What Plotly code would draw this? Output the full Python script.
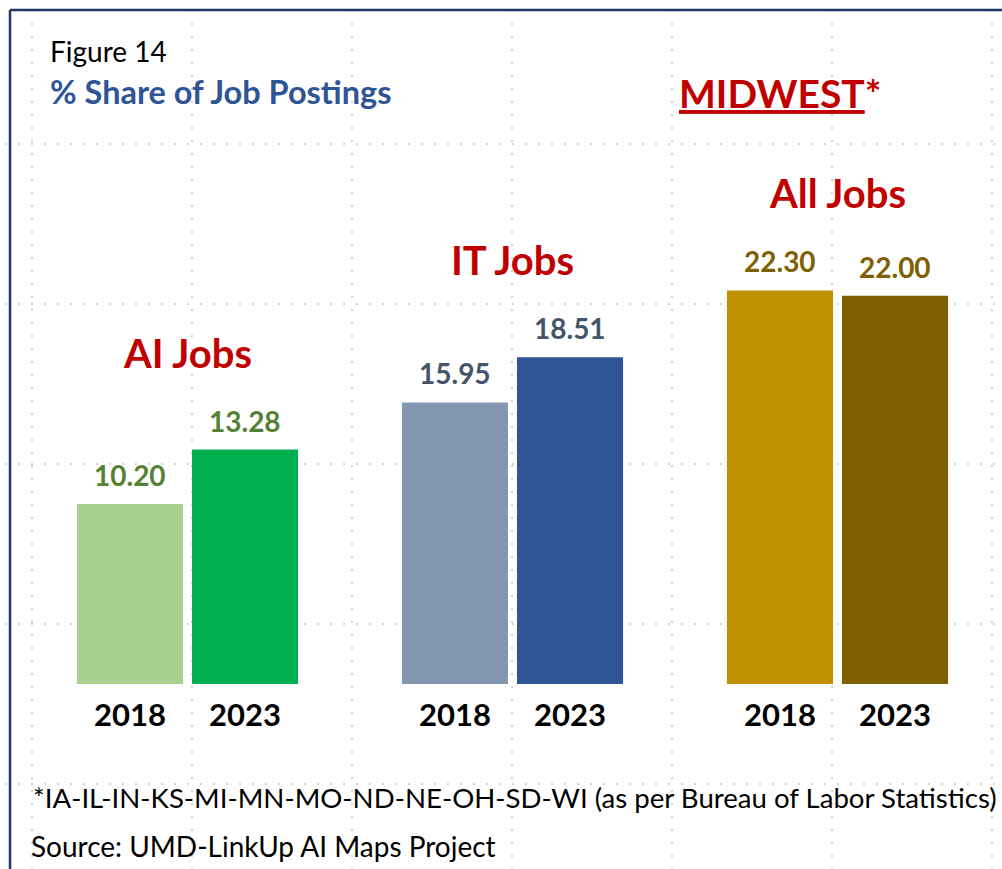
import plotly.graph_objects as go

# data
groups = ["AI Jobs", "IT Jobs", "All Jobs"]
years = ["2018", "2023"]
share_2018 = [10.20, 15.95, 22.30]
share_2023 = [13.28, 18.51, 22.00]

colors_2018 = ["#A9D18E", "#8497B0", "#BF9000"]
colors_2023 = ["#00B050", "#2F5597", "#7F6000"]
label_colors = ["#548235", "#44546A", "#7F6000"]

W, H = 1002, 869
FONT = "Lato"
BARGAP = 0.292

fig = go.Figure()
fig.add_trace(go.Bar(x=groups, y=share_2018, name=years[0],
                     marker=dict(color=colors_2018, line=dict(width=0))))
fig.add_trace(go.Bar(x=groups, y=share_2023, name=years[1],
                     marker=dict(color=colors_2023, line=dict(width=0))))

ann = []
off = (1 - BARGAP) / 4  # offset of each bar centre from the category centre
for i, g in enumerate(groups):
    for j, vals in enumerate([share_2018, share_2023]):
        xpos = i - off if j == 0 else i + off
        # value labels
        ann.append(dict(x=xpos, y=vals[i], xref="x", yref="y", text=f"<b>{vals[i]:.2f}</b>",
                        showarrow=False, yanchor="bottom", yshift=10,
                        font=dict(family=FONT, size=28, color=label_colors[i])))
        # year labels under the bars
        ann.append(dict(x=xpos, y=0, xref="x", yref="y", text=f"<b>{years[j]}</b>",
                        showarrow=False, yanchor="middle", yshift=-30,
                        font=dict(family=FONT, size=31, color="black")))
    # group titles
    ann.append(dict(x=i, y=max(share_2018[i], share_2023[i]), xref="x", yref="y",
                    text=f"<b>{g}</b>", showarrow=False, yanchor="bottom", yshift=71,
                    font=dict(family=FONT, size=40, color="#C00000")))

def px(x, y):
    return x / W, 1 - y / H

for txt, x, y, size, color in [
    ("Figure 14", 48, 51, 28, "black"),
    ("<b>% Share of Job Postings</b>", 48, 92, 32.5, "#2F5597"),
    ("*IA-IL-IN-KS-MI-MN-MO-ND-NE-OH-SD-WI (as per Bureau of Labor Statistics)", 31, 797, 27.6, "black"),
    ("Source: UMD-LinkUp AI Maps Project", 29, 846, 28, "black"),
]:
    ax, ay = px(x, y)
    ann.append(dict(x=ax, y=ay, xref="paper", yref="paper", text=txt, showarrow=False,
                    xanchor="left", yanchor="middle", font=dict(family=FONT, size=size, color=color)))

ax, ay = px(780, 93)
ann.append(dict(x=ax, y=ay, xref="paper", yref="paper", text="<b><u>MIDWEST</u>*</b>",
                showarrow=False, xanchor="center", yanchor="middle",
                font=dict(family=FONT, size=39, color="#C00000")))

# slide grid dots and the frame
shapes = []
for gy in [144, 304, 464, 624, 784]:
    x0, y0 = px(5, gy)
    x1, _ = px(W, gy)
    shapes.append(dict(type="line", xref="paper", yref="paper", x0=x0, x1=x1, y0=y0, y1=y0,
                       line=dict(color="#a6a6a6", width=1, dash="2px,11px"), layer="below"))
for gx in [32, 192, 352, 512, 672, 832, 992]:
    x0, y0 = px(gx, 10)
    _, y1 = px(gx, H)
    shapes.append(dict(type="line", xref="paper", yref="paper", x0=x0, x1=x0, y0=y0, y1=y1,
                       line=dict(color="#a6a6a6", width=1, dash="2px,11px"), layer="below"))
fx, fy = px(10, 10)
shapes.append(dict(type="line", xref="paper", yref="paper", x0=fx, x1=1, y0=fy, y1=fy,
                   line=dict(color="#1F3864", width=2.5)))
shapes.append(dict(type="line", xref="paper", yref="paper", x0=fx, x1=fx, y0=fy, y1=0,
                   line=dict(color="#1F3864", width=2.5)))

fig.update_layout(
    width=W, height=H,
    margin=dict(l=0, r=0, t=0, b=0),
    paper_bgcolor="white", plot_bgcolor="rgba(0,0,0,0)",
    barmode="group", bargap=BARGAP, bargroupgap=0.078,
    showlegend=False,
    xaxis=dict(domain=[25 / W, 1000 / W], range=[-0.5, 2.5], visible=False),
    yaxis=dict(domain=[(H - 684) / H, (H - 100) / H], range=[0, 584 / 17.65], visible=False),
    annotations=ann,
    shapes=shapes,
)

fig.write_html("out.html", config={"displayModeBar": False},
               post_script="document.body.style.margin='0';")
